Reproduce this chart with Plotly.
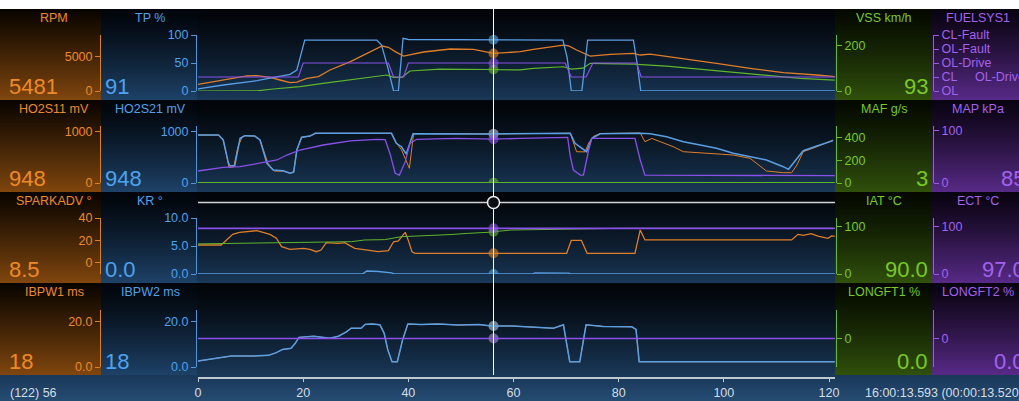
import numpy as np
import plotly.graph_objects as go
import zlib, struct, base64

W, H = 1019, 401
FONT = "Liberation Sans, Arial, sans-serif"

# ---------------- data ----------------
total_samples = 122
cursor_x = 56.2

x_ticks = [0, 20, 40, 60, 80, 100, 120]

# Row 1: RPM / TP % / VSS km/h / FUELSYS1
rpm_x = [0, 4.8, 9.3, 11.2, 13.7, 15.6, 17.5, 18.8, 20.7, 22.9, 25.1, 29.0, 32.8, 35.0, 36.2, 37.5, 39.1,
         42.9, 48.0, 52.4, 56.2, 61.3, 63.8, 69.5, 70.5, 72.0, 74.6, 78.4, 82.8, 84.1, 86.0, 92.3, 98.6,
         105.0, 111.3, 117.7, 121.1]
rpm_y = [980, 1610, 2200, 2250, 2000, 1610, 1220, 1300, 1850, 2100, 3080, 4300, 5760, 6590, 6400, 5760, 5120,
         5710, 6150, 6100, 5500, 5760, 6100, 6730, 6600, 6000, 5120, 5370, 5520, 5270, 5400, 4780, 4050,
         3320, 2680, 2340, 2100]
tp_x = [0, 4.8, 11.2, 15.6, 17.5, 18.8, 19.7, 20.3, 34.0, 34.9, 35.9, 37.2, 38.1, 39.0, 40.0, 69.4, 70.2,
        71.0, 73.0, 74.1, 82.8, 83.5, 84.2, 121.1]
tp_y = [3.6, 10.7, 18.4, 25.6, 29.8, 37.5, 73, 91, 91, 82, 49, 0, 0, 94, 92, 91, 60, 0, 0, 91, 91, 50, 0, 0]
vss_x = [0, 11.2, 14.3, 19.4, 23.8, 30.2, 35.9, 37.2, 38.8, 40.3, 46.0, 55.5, 61.3, 63.8, 69.5, 71.0, 73.2,
         74.6, 82.8, 89.1, 95.5, 101.8, 108.1, 114.5, 121.1]
vss_y = [0, 0.5, 8.75, 19, 33.5, 52, 70, 60, 60, 87.5, 96, 94, 92, 99, 106, 96, 100, 121, 118, 109, 95, 80,
         66, 55, 48]
fuel_levels = ["OL", "CL", "OL-Drive", "OL-Fault", "CL-Fault"]
fuel_x = [0, 19.1, 20.0, 36.2, 37.2, 39.1, 40.0, 69.8, 71.0, 73.8, 75.1, 83.4, 84.3, 121.1]
fuel_y = [1, 1, 2, 2, 1, 1, 2, 2, 1, 1, 2, 2, 1, 1]

# Row 2: HO2S11 mV / HO2S21 mV / MAF g/s / MAP kPa
ho2s11_x = [0, 3.9, 4.8, 5.9, 6.8, 7.6, 8.4, 9.0, 10.8, 11.8, 13.3, 14.5, 16.2, 17.5, 18.2, 18.8, 19.7, 21.3,
            22.3, 36.8, 37.7, 38.7, 40.2, 41.0, 56.2, 69.5, 70.8, 72.0, 73.6, 74.3, 75.2, 76.5, 84.1, 85.0,
            86.3, 87.9, 90.4, 92.3, 95.5, 101.8, 105.0, 106.9, 108.1, 111.3, 112.9, 113.9, 115.1, 117.7, 120.8]
ho2s11_y = [926, 926, 830, 303, 310, 700, 890, 913, 905, 830, 380, 230, 230, 190, 220, 640, 880, 905,
            959, 959, 780, 640, 283, 955, 948, 955, 959, 604, 600, 770, 900, 955, 965, 797,
            860, 797, 700, 604, 585, 540, 476, 315, 232, 199, 199, 347, 604, 700, 830]
ho2s21_x = [0, 3.9, 4.8, 5.8, 6.1, 7.0, 8.0, 8.9, 10.8, 11.8, 13.1, 14.3, 16.2, 17.5, 18.2, 18.8, 19.7, 21.3,
            22.3, 36.8, 37.7, 38.7, 39.6, 40.9, 56.2, 69.5, 70.8, 71.7, 73.9, 74.9, 76.5, 84.1, 86.0, 89.1,
            92.3, 95.5, 98.6, 101.8, 105.0, 108.1, 111.3, 112.3, 113.2, 115.1, 117.7, 120.8]
ho2s21_y = [926, 926, 830, 380, 328, 340, 862, 913, 905, 830, 380, 250, 237, 187, 210, 637, 882, 905,
            959, 959, 766, 700, 560, 950, 948, 950, 959, 766, 604, 862, 950, 959, 950, 894,
            797, 733, 669, 573, 507, 444, 315, 264, 380, 624, 714, 817]
maf_x = [0, 121.1]
maf_y = [3, 3]
map_x = [0, 4.8, 8.0, 11.2, 15.0, 16.9, 19.4, 23.8, 29.0, 34.0, 35.6, 36.5, 37.5, 38.3, 39.4, 40.3, 41.6,
         49.2, 56.2, 61.3, 69.5, 70.3, 70.8, 71.4, 72.7, 73.3, 74.3, 74.9, 83.1, 84.1, 85.0, 121.1]
map_y = [22.7, 29.7, 30.9, 37.3, 43.6, 53, 62.5, 72, 80, 82.8, 82, 56, 18.4, 15, 40, 75, 82.8,
         84.5, 83, 84.5, 86.6, 86.6, 50, 24.6, 15, 15, 62.5, 84.5, 84.5, 43.6, 15, 13.8]

# Row 3: SPARKADV ° / KR ° / IAT °C / ECT °C
spark_x = [0, 4.4, 6.6, 7.9, 11.2, 13.7, 14.9, 15.9, 17.5, 20.1, 21.3, 22.5, 23.4, 24.4, 26.6, 27.9, 29.8,
           31.7, 34.3, 36.2, 37.2, 38.1, 39.4, 40.0, 40.7, 41.3, 70.1, 71.0, 72.9, 74.0, 83.1, 84.1, 85.0,
           112.9, 114.1, 115.1, 116.6, 117.9, 119.8, 120.5, 121.1]
spark_y = [15.9, 15.9, 25.4, 27.2, 28.7, 25.4, 21.9, 14.4, 12.0, 12.9, 12.0, 9.9, 11.4, 18.0, 17.4, 18.0, 12.9,
           11.4, 9.9, 10.8, 18.8, 19.5, 27.2, 20.0, 9.9, 8.5, 8.5, 20.1, 20.1, 8.5, 8.5, 29.3, 20.4,
           20.4, 25.4, 24.5, 26.0, 23.8, 21.9, 24.0, 23.6]
kr_x = [0, 31.3, 32.1, 34.3, 36.8, 37.4, 63.5, 64.1, 70.5, 71.0, 121.1]
kr_y = [0, 0, 0.54, 0.45, 0.2, 0, 0, 0.2, 0.15, 0, 0]
iat_x = [0, 29.2, 31.7, 35.5, 38.7, 41.9, 45.1, 48.3, 51.4, 55.2, 59.5, 68.8, 80, 121.1]
iat_y = [64, 68.7, 72.3, 73, 79.3, 80.5, 82.9, 84, 86.4, 88.6, 93.5, 95, 97, 97]
ect_x = [0, 121.1]
ect_y = [97, 97]

# Row 4: IBPW1 ms / IBPW2 ms / LONGFT1 % / LONGFT2 %
ibpw_x = [0, 3.1, 6.3, 10.2, 13.4, 14.9, 16.1, 17.7, 18.5, 19.2, 20.4, 22.0, 23.6, 25.1, 26.7, 28.3, 29.1,
          31.0, 31.8, 33.0, 34.6, 35.4, 36.1, 36.9, 37.9, 38.9, 39.9, 42.4, 45.6, 49.5, 53.4, 55.8, 59.7,
          64.4, 67.6, 69.5, 70.7, 72.6, 73.8, 77.0, 80.9, 82.5, 83.3, 83.9, 121.1]
ibpw2_y = [2.6, 3.8, 4.8, 4.8, 5.1, 6.3, 7.7, 8.2, 10.4, 13.0, 13.2, 13.5, 13.0, 12.6, 13.5, 15.5, 17.0,
           17.0, 18.7, 18.9, 18.5, 14.8, 7.5, 2.3, 2.3, 11.8, 18.9, 18.6, 18.9, 18.4, 18.6, 18.0, 18.0,
           17.4, 17.0, 18.5, 2.3, 2.3, 18.5, 17.8, 17.6, 17.6, 16.5, 2.3, 2.3]
ibpw1_y = list(ibpw2_y)
longft1_x = [0, 121.1]
longft1_y = [0, 0]
longft2_x = [0, 121.1]
longft2_y = [0, 0]

titles = [["RPM", "TP %", "VSS km/h", "FUELSYS1"],
          ["HO2S11 mV", "HO2S21 mV", "MAF g/s", "MAP kPa"],
          ["SPARKADV °", "KR °", "IAT °C", "ECT °C"],
          ["IBPW1 ms", "IBPW2 ms", "LONGFT1 %", "LONGFT2 %"]]
current_values = [["5481", "91", "93", "OL-Drive"],
                  ["948", "948", "3", "85"],
                  ["8.5", "0.0", "90.0", "97.0"],
                  ["18", "18", "0.0", "0.0"]]
time_text = "16:00:13.593 (00:00:13.520)"

series = [[(rpm_x, rpm_y), (tp_x, tp_y), (vss_x, vss_y), (fuel_x, fuel_y)],
          [(ho2s11_x, ho2s11_y), (ho2s21_x, ho2s21_y), (maf_x, maf_y), (map_x, map_y)],
          [(spark_x, spark_y), (kr_x, kr_y), (iat_x, iat_y), (ect_x, ect_y)],
          [(ibpw_x, ibpw1_y), (ibpw_x, ibpw2_y), (longft1_x, longft1_y), (longft2_x, longft2_y)]]

axes_cfg = [
    [([0, 8200], [0, 5000], ["0", "5000"]), ([0, 100], [0, 50, 100], ["0", "50", "100"]),
     ([0, 245], [0, 200], ["0", "200"]), ([0, 4], [0, 1, 2, 3, 4], fuel_levels)],
    [([0, 1100], [0, 1000], ["0", "1000"]), ([0, 1100], [0, 1000], ["0", "1000"]),
     ([0, 500], [0, 200, 400], ["0", "200", "400"]), ([0, 108], [0, 100], ["0", "100"])],
    [([-10, 40], [0, 20, 40], ["0", "20", "40"]), ([0, 10], [0, 5, 10], ["0.0", "5.0", "10.0"]),
     ([0, 119], [0, 100], ["0", "100"]), ([0, 119], [0, 100], ["0", "100"])],
    [([0, 25], [0, 20], ["0.0", "20.0"]), ([0, 25], [0, 20], ["0.0", "20.0"]),
     ([-25, 25], [0], ["0"]), ([-25, 25], [0], ["0"])],
]

# ---------------- styling ----------------
rows_px = [(9, 100), (100, 192), (192, 283), (283, 375)]
spans_px = [(35, 91), (126, 183), (218, 274), (310, 367)]
axis_pos_px = [100, 196, 836, 933]
txt_col = ["#ee8a26", "#4ea2ee", "#79c922", "#a262ee"]
axis_col = ["#d9801f", "#4f97d8", "#6cb825", "#9a5ae0"]
line_col = ["#e07d28", "#5a9ee4", "#5fb52c", "#8a50ea"]
# per-row line widths for [orange, blue, green, purple]
line_w = [[1.3, 1.3, 1.2, 1.2],
          [1.0, 1.5, 1.2, 1.3],
          [1.3, 1.3, 1.0, 1.7],
          [0.9, 1.5, 0.8, 1.7]]
plot_l, plot_r = 198, 835
px_per_unit = 5.2583


def px(x):
    return x / W


def py(y):
    return 1 - y / H


def make_bg():
    img = np.full((H, W, 3), 255.0)

    def grad(y0, y1, x0, x1, top, bot, g=1.3):
        n = y1 - y0
        t = (np.arange(n) / max(n - 1, 1)) ** g
        col = np.outer(1 - t, top) + np.outer(t, bot)
        img[y0:y1, x0:x1, :] = col[:, None, :]

    for (y0, y1) in rows_px:
        grad(y0, y1, 0, 101, (10, 5, 0), (128, 70, 14), 1.1)
        grad(y0, y1, 101, 197, (2, 6, 12), (30, 66, 104), 1.3)
        grad(y0, y1, 197, 835, (2, 5, 9), (26, 56, 88), 1.3)
        grad(y0, y1, 835, 932, (5, 9, 0), (48, 80, 12), 1.2)
        grad(y0, y1, 932, 1019, (10, 4, 18), (88, 42, 135), 1.2)
    grad(375, 401, 0, 1019, (26, 56, 90), (38, 76, 114), 1.0)
    arr = np.clip(img, 0, 255).astype(np.uint8)
    raw = b"".join(b"\x00" + arr[i].tobytes() for i in range(H))

    def chunk(tag, data):
        return struct.pack(">I", len(data)) + tag + data + struct.pack(">I", zlib.crc32(tag + data) & 0xffffffff)

    png = (b"\x89PNG\r\n\x1a\n" + chunk(b"IHDR", struct.pack(">IIBBBBB", W, H, 8, 2, 0, 0, 0))
           + chunk(b"IDAT", zlib.compress(raw, 9)) + chunk(b"IEND", b""))
    return "data:image/png;base64," + base64.b64encode(png).decode()


fig = go.Figure()
layout_axes = {}
annotations = []
draw_order = [0, 2, 3, 1]
for r in range(4):
    base = r * 4 + 1
    for c in range(4):
        idx = r * 4 + c + 1
        key = "yaxis" if idx == 1 else f"yaxis{idx}"
        rng, tv, tt = axes_cfg[r][c]
        ax = dict(range=rng, tickvals=tv, ticktext=tt, anchor="free", position=px(axis_pos_px[c]),
                  side="left" if c < 2 else "right", showline=True, linecolor=axis_col[c], linewidth=1,
                  ticks="outside", ticklen=5, tickcolor=axis_col[c], tickwidth=1, automargin=False,
                  tickfont=dict(size=12.5, color=txt_col[c], family=FONT),
                  showgrid=False, zeroline=False, fixedrange=True)
        if c == 0:
            ax["domain"] = [py(spans_px[r][1]), py(spans_px[r][0])]
        else:
            ax["overlaying"] = "y" if base == 1 else f"y{base}"
        layout_axes[key] = ax
    for c in draw_order:
        idx = r * 4 + c + 1
        yref = "y" if idx == 1 else f"y{idx}"
        xs, ys = series[r][c]
        fig.add_trace(go.Scatter(x=xs, y=ys, mode="lines", xaxis="x", yaxis=yref,
                                 line=dict(color=line_col[c], width=line_w[r][c]), hoverinfo="skip",
                                 showlegend=False))
    for c in draw_order:
        idx = r * 4 + c + 1
        yref = "y" if idx == 1 else f"y{idx}"
        xs, ys = series[r][c]
        fig.add_trace(go.Scatter(x=[cursor_x], y=[float(np.interp(cursor_x, xs, ys))], mode="markers",
                                 xaxis="x", yaxis=yref, marker=dict(color=line_col[c], size=10, opacity=0.6),
                                 hoverinfo="skip", showlegend=False))

    # titles
    top, bot = rows_px[r]
    for c, cx in enumerate([54, 150, 884, 978]):
        annotations.append(dict(text=titles[r][c], x=px(cx), y=py(top + 8.5), xref="paper", yref="paper",
                                xanchor="center", yanchor="middle", showarrow=False,
                                font=dict(size=12.5, color=txt_col[c], family=FONT)))
    vy = py(bot - 13.5)
    big = 22
    annotations.append(dict(text=current_values[r][0], x=px(7), y=vy, xref="paper", yref="paper",
                            xanchor="left", yanchor="middle", showarrow=False,
                            font=dict(size=big, color=txt_col[0], family=FONT)))
    annotations.append(dict(text=current_values[r][1], x=px(103), y=vy, xref="paper", yref="paper",
                            xanchor="left", yanchor="middle", showarrow=False,
                            font=dict(size=big, color=txt_col[1], family=FONT)))
    annotations.append(dict(text=current_values[r][2], x=px(930), y=vy, xref="paper", yref="paper",
                            xanchor="right", yanchor="middle", showarrow=False,
                            font=dict(size=big, color=txt_col[2], family=FONT)))
    if r == 0:
        annotations.append(dict(text=current_values[r][3], x=px(973), y=py(77), xref="paper", yref="paper",
                                xanchor="left", yanchor="middle", showarrow=False,
                                font=dict(size=12.5, color=txt_col[3], family=FONT)))
    else:
        annotations.append(dict(text=current_values[r][3], x=px(1027), y=vy, xref="paper", yref="paper",
                                xanchor="right", yanchor="middle", showarrow=False,
                                font=dict(size=big, color=txt_col[3], family=FONT)))

annotations.append(dict(text=f"({total_samples}) {int(cursor_x)}", x=px(8), y=py(392.5), xref="paper",
                        yref="paper", xanchor="left", yanchor="middle", showarrow=False,
                        font=dict(size=12.5, color="#d4dce4", family=FONT)))
annotations.append(dict(text=time_text, x=px(863), y=py(392.5), xref="paper", yref="paper",
                        xanchor="left", yanchor="middle", showarrow=False,
                        font=dict(size=12.5, color="#d4dce4", family=FONT)))

cur_px = plot_l + cursor_x * px_per_unit
shapes = [
    dict(type="line", xref="paper", yref="paper", x0=px(plot_l), x1=px(plot_r), y0=py(202.5), y1=py(202.5),
         line=dict(color="#cfd2d6", width=1.5), layer="above"),
    dict(type="line", xref="x", yref="paper", x0=cursor_x, x1=cursor_x, y0=py(9), y1=py(375),
         line=dict(color="#ffffff", width=1), layer="above"),
    dict(type="circle", xref="paper", yref="paper", x0=px(cur_px - 6), x1=px(cur_px + 6), y0=py(208.5),
         y1=py(196.5), line=dict(color="#f0f0f0", width=1.5), fillcolor="#0b1016", layer="above"),
]

xmax = (plot_r - plot_l) / px_per_unit
fig.update_layout(
    template="none",
    width=W, height=H, autosize=False, margin=dict(l=0, r=0, t=0, b=0, pad=0),
    paper_bgcolor="#000000", plot_bgcolor="rgba(0,0,0,0)",
    images=[dict(source=make_bg(), xref="paper", yref="paper", x=0, y=1, sizex=1, sizey=1,
                 xanchor="left", yanchor="top", sizing="stretch", layer="below")],
    xaxis=dict(domain=[px(plot_l), px(plot_r)], range=[0, xmax], anchor="free", position=py(377.5),
               tickvals=x_ticks, ticktext=[str(v) for v in x_ticks], showline=True, linecolor="#c0c8d0",
               linewidth=1.5, ticks="outside", ticklen=4, tickcolor="#c0c8d0", automargin=False,
               tickfont=dict(size=12.5, color="#d4dce4", family=FONT), showgrid=False, zeroline=False,
               fixedrange=True),
    annotations=annotations, shapes=shapes, showlegend=False,
    **layout_axes,
)
fig.write_html("out.html", config={"displayModeBar": False, "responsive": False},
               post_script="document.body.style.margin='0';document.body.style.overflow='hidden';")
